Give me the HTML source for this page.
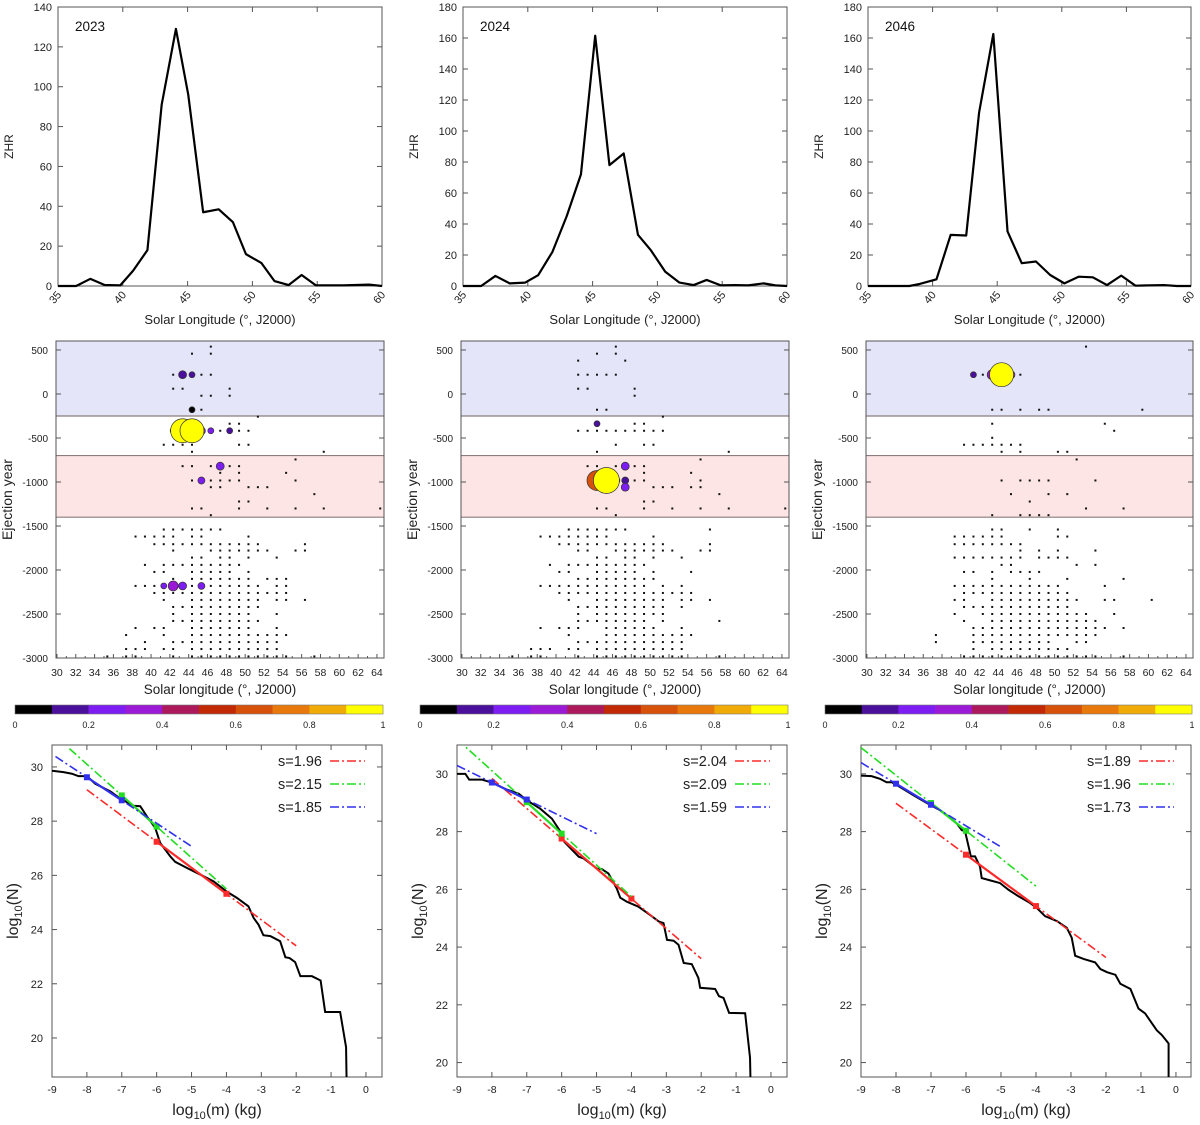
<!DOCTYPE html>
<html><head><meta charset="utf-8"><style>
html,body{margin:0;padding:0;background:#fff}
svg{display:block;font-family:"Liberation Sans","DejaVu Sans",sans-serif}
</style></head><body>
<svg id="fig" width="1200" height="1125" viewBox="0 0 1200 1125" xmlns="http://www.w3.org/2000/svg"></svg>
<script>
// ---------- ZHR data ----------
const zhrLon2023=[35,36.4,37.5,38.6,39.8,40.8,41.9,43,44.1,45.05,46.2,47.4,48.5,49.5,50.7,51.7,52.8,53.8,54.9,56,57,58,59,60];
const zhrVal2023=[0,0,3.6,0.5,0.3,7.7,18,91,129,96,37,38.5,32,16,11.5,2.5,0.5,5.5,0.3,0.3,0.3,0.5,0.7,0];
const zhrLon2024=[35,36.4,37.5,38.6,39.8,40.8,41.9,43,44.1,45.2,46.3,47.4,48.5,49.5,50.6,51.7,52.8,53.8,54.9,56,57,58.2,59.1,60];
const zhrVal2024=[0,0,6.5,1.7,2.2,7,22,45,72,161.5,78,85.5,33,23,9.3,2.2,0.6,3.9,0.4,0.6,0.4,1.7,0.4,0];
const zhrLon2046=[35,38.2,39,40.3,41.4,42.6,43.6,44.7,45.8,46.9,48,49.1,50.2,51.3,52.4,53.5,54.6,55.7,57.9,58.9,60];
const zhrVal2046=[0,0,1.3,4.3,33,32.6,112,162.6,35.2,14.7,15.8,7.1,1.7,6,5.6,0.6,6.7,0.2,0.6,0,0];
const zhrTicks2023=[0,20,40,60,80,100,120,140];
const zhrTicks2024=[0,20,40,60,80,100,120,140,160,180];
const lonTicksTop=[35,40,45,50,55,60];

// ---------- Ejection scatter data (rows: ejection year, longitude bins) ----------
const ejYears=[538,458,379,219,60,-20,-179,-258,-338,-418,-498,-577,-657,-744,-820,-896,-983,-1059,-1138,-1222,-1301,-1377,-1540,-1620,-1707,-1779,-1859,-1942,-2022,-2101,-2181,-2261,-2340,-2420,-2500,-2579,-2659,-2739,-2819,-2898,-2982];
const ejBins2023=[[46],[44,46],[],[42,43,44,45,46],[42,43,48],[45,46,48],[44,45],[51],[44,48,49],[42,43,44,45,46,47,48,49,50],[],[41,42,43,44,49,50],[44,58],[55],[43,44,46,47,48,49],[47,49,54],[44,45,46,47,48,49,55],[46,47,50,51,52],[57],[49,50],[44,45,49,52,55,58,64],[46],
[41,42,43,44,45,46,47],[38,39,40,41,42,44,45,50],[40,41,42,43,44,45,46,47,48,49,50,51,56],[42,46,47,48,49,50,51,52,55,56],[44,45,47,48,50,53],[39,41,42,43,44,45,46,47,48,49],[40,41,44,45,46,47,48,50],[42,44,45,46,47,48,49,50,52,53,54],[38,39,40,41,42,43,44,45,46,47,48,49,50,51,53,54],[40,41,42,43,44,45,46,47,48,49,50,51,52,53,54],[41,44,45,46,47,48,49,50,51,53,54,56],[42,43,44,45,46,47,48,49,50,51],[42,44,45,46,47,48,49,50,53],[42,43,44,45,46,47,48,49,50,51],[38,40,41,44,45,46,47,48,49,50,53],[37,41,44,45,46,47,48,49,50,51,52,53,54],[39,42,43,44,45,46,47,48,49,50,51,52,53],[37,38,39,41,42,44,45,46,47,48,49,50,51,52,53],[35,37,38,42,44,45,46,47,48,49,50,51,52,53,54,57]];
const ejBins2024=[[46],[44,46],[42,47],[42,43,44,45,46],[42,43,48],[48],[44,45],[51],[44,48,49],[42,43,44,45,46,47,48,49,50,51],[],[46,49,50],[44,58],[55],[43,44,46,47,48,49],[49,54],[46,47,48,49,55],[46,47,50,51,52,54,55],[57],[49,50],[44,45,49,52,55,58,64],[46],
[41,42,43,44,45,46,47,56],[38,39,40,41,42,43,44,45,50],[40,41,42,43,44,45,46,47,48,49,50,51,56],[42,43,46,47,48,49,50,51,52,55,56],[44,45,47,48,50,53],[39,41,42,43,44,45,46,47,48,49],[40,41,44,45,46,47,48,50,54],[42,43,44,45,46,47,48,49,50],[38,39,40,41,42,43,44,45,46,47,48,49,51,53],[40,41,42,43,44,45,46,47,48,49,50,51,52,53,54],[41,44,45,46,47,48,49,50,51,53,54,56],[42,43,44,45,46,47,48,49,50,51,53],[42,44,45,46,47,48,49,50,51],[42,43,44,45,46,47,48,49,51,57],[38,40,41,42,45,46,47,48,49,50,53],[41,45,46,47,48,49,50,51,52,53,54],[42,43,44,45,46,47,48,49,50,51,52,53],[37,38,39,41,42,44,45,46,47,48,49,50,51,52,53],[35,37,38,42,44,45,46,47,48,49,50,51,52,53,57]];
const ejBins2046=[[53],[],[],[41,42,43,45,46],[],[],[43,44,46,48,49,59],[],[43,55],[56],[43],[40,41,42,43,44,45,46],[44,46,50,51],[52],[],[],[44,46,47,48,49,54],[],[45,49,51],[47],[53,57],[43,46,47,48,49],
[43,44,47,50],[39,40,41,42,43,44,50,51],[39,40,41,42,43,44,45,46],[46,48,50,54],[39,40,41,42,43,44,45,46,48,49,50,51],[44,45,52,54],[40,41,43,45,46,47,48],[43,47,51,57],[39,40,41,42,43,44,45,46,47,48,49,50,55],[40,41,42,43,44,45,46,47,48,49,50,51],[39,40,43,44,45,46,47,48,49,50,51,52,55,56,60],[40,41,42,43,44,45,46,47,48,49,50,51],[39,42,43,44,45,46,47,48,49,50,51,52,53,56],[40,43,44,45,46,47,48,49,50,51,52,53,54],[41,42,43,44,45,46,47,48,49,50,51,52,53,54,55,57],[37,41,42,43,44,45,46,47,48,49,50,51,52,53,54],[37,41,42,43,44,45,46,47,48,49,52,53],[41,43,44,45,46,47,48,49,50,51],[40,41,42,43,44,45,46,47,48,49,50,51,52,53,54,57]];
// highlighted (weighted) points: bin, year, colour value 0..1, weight
const hiBin2023=[43,44,44,42,45,46,48,47,45,41,42,43,45,43,44];
const hiYear2023=[219,219,-179,-418,-418,-418,-418,-820,-983,-2181,-2181,-2181,-2181,-418,-418];
const hiVal2023=[0.15,0.15,0.05,0.2,0.25,0.2,0.15,0.25,0.25,0.25,0.3,0.25,0.25,1,1];
const hiW2023=[4,3,3,3,4,3,3,4,3.5,3,5,4,3.5,12,12];
const hiBin2024=[44,47,47,47,46,44,45];
const hiYear2024=[-338,-820,-983,-1059,-983,-983,-983];
const hiVal2024=[0.15,0.25,0.15,0.2,0.3,0.62,1];
const hiW2024=[3,4,3.5,4,4,10,13];
const hiBin2046=[41,43,45,44];
const hiYear2046=[219,219,219,219];
const hiVal2046=[0.1,0.3,0.3,1];
const hiW2046=[3,5,4,12];
const yearTicks=[500,0,-500,-1000,-1500,-2000,-2500,-3000];
const lonTicksMid=[30,32,34,36,38,40,42,44,46,48,50,52,54,56,58,60,62,64];
const cbColors=['#000000','#4a109c','#7d1df2','#9a1ad6','#ad1a5c','#c22a06','#d6520b','#e87a0d','#f0ab08','#ffff00'];
const cbTicks=[0,0.2,0.4,0.6,0.8,1];

// ---------- Mass distribution data ----------
const massM2023=[-9,-8.67,-8.43,-8.24,-8,-7.76,-7.33,-7.04,-6.66,-6.47,-6.28,-6.04,-5.9,-5.61,-5.47,-5.13,-4.75,-4.37,-3.99,-3.7,-3.37,-3.22,-3.08,-2.94,-2.74,-2.46,-2.31,-2.19,-2.03,-1.88,-1.55,-1.3,-1.17,-0.74,-0.57,-0.55];
const massN2023=[29.86,29.81,29.75,29.66,29.66,29.38,29.1,28.83,28.57,28.55,28.18,27.75,27.2,26.7,26.5,26.27,26.03,25.78,25.4,25.17,24.86,24.43,24.18,23.79,23.76,23.57,22.98,22.95,22.8,22.28,22.28,22.12,20.96,20.96,19.66,18];
const massM2024=[-9,-8.76,-8.65,-8.28,-7.98,-7.62,-7.23,-6.99,-6.61,-6.28,-6.04,-5.92,-5.51,-5.37,-4.99,-4.85,-4.66,-4.42,-4.32,-4.13,-3.8,-3.46,-3.22,-3.08,-2.98,-2.79,-2.65,-2.5,-2.27,-2.08,-2.03,-1.6,-1.49,-1.36,-1.2,-0.74,-0.6,-0.58];
const massN2024=[30,30,29.8,29.8,29.69,29.48,29.31,29.08,28.79,28.45,28.01,27.64,27.13,27.07,26.72,26.7,26.55,26.03,25.71,25.57,25.4,25.11,24.89,24.83,24.25,24.22,24.08,23.45,23.41,22.93,22.59,22.55,22.3,22.24,21.72,21.71,20.17,19];
const massM2046=[-9,-8.7,-8.46,-8.27,-8.12,-7.88,-7.5,-7.12,-6.74,-6.55,-6.26,-6.12,-6.03,-5.86,-5.74,-5.6,-5.55,-5.31,-5.03,-4.79,-4.5,-4.17,-3.98,-3.74,-3.4,-3.12,-2.98,-2.88,-2.64,-2.31,-2.16,-1.97,-1.73,-1.59,-1.3,-1.07,-0.88,-0.55,-0.4,-0.21,-0.21];
const massN2046=[29.94,29.92,29.83,29.71,29.71,29.54,29.26,28.99,28.74,28.57,28.28,28.05,28.03,27.14,27.14,26.79,26.39,26.31,26.22,25.99,25.76,25.53,25.36,25.07,24.9,24.67,24.33,23.7,23.59,23.47,23.24,23.13,23.04,22.73,22.55,21.87,21.7,21.12,20.95,20.66,19];
// fits: red, green, blue -- slope index s, log N at m=-6, line extent, fitted-segment endpoints
const fitS2023=[1.96,2.15,1.85];
const fitN6_2023=[27.24,27.8,27.92];
const fitS2024=[2.04,2.09,1.59];
const fitN6_2024=[27.76,27.93,28.52];
const fitS2046=[1.89,1.96,1.73];
const fitN6_2046=[27.2,28.03,28.2];
const fitFrom2023=[-8,-8.5,-8.9], fitTo2023=[-2,-4,-5];
const fitFrom2024=[-8,-9,-9], fitTo2024=[-2,-4,-5];
const fitFrom2046=[-8,-9,-9], fitTo2046=[-2,-4,-5];
const fitSegA=[-6,-7,-8], fitSegB=[-4,-6,-7];
const massXTicks=[-9,-8,-7,-6,-5,-4,-3,-2,-1,0];
const massYTicks=[20,22,24,26,28,30];

// ---------- drawing ----------
const NS='http://www.w3.org/2000/svg';
const svg=document.getElementById('fig');
function mk(tag,attrs,parent){const e=document.createElementNS(NS,tag);for(const k in attrs)e.setAttribute(k,attrs[k]);(parent||svg).appendChild(e);return e;}
function txt(x,y,s,size,anchor,parent,extra){const t=mk('text',Object.assign({x:x,y:y,'font-size':size,'text-anchor':anchor||'middle',fill:'#222'},extra||{}),parent);t.textContent=s;return t;}
const lineCol='#555';

function drawZhr(b,lon,val,ticks,label,key){
  const g=mk('g',{});
  
  
  const ymax=ticks[ticks.length-1];
  const sx=v=>b.x0+(v-35)/25*(b.x1-b.x0), sy=v=>b.y1-v/ymax*(b.y1-b.y0);
  const fr=mk('rect',{x:b.x0,y:b.y0,width:b.x1-b.x0,height:b.y1-b.y0,fill:'none',stroke:lineCol,'stroke-width':1},g);
  
  
  ticks.forEach(v=>{const y=sy(v);
    mk('line',{x1:b.x0,x2:b.x0+5,y1:y,y2:y,stroke:lineCol},g);mk('line',{x1:b.x1,x2:b.x1-5,y1:y,y2:y,stroke:lineCol},g);
    const t=txt(b.x0-6,y+4,String(v),11,'end',g);
    
    });
  lonTicksTop.forEach(v=>{const x=sx(v);
    mk('line',{x1:x,x2:x,y1:b.y1,y2:b.y1-5,stroke:lineCol},g);mk('line',{x1:x,x2:x,y1:b.y0,y2:b.y0+5,stroke:lineCol},g);
    const t=txt(x+4,b.y1+9,String(v),11,'end',g,{transform:`rotate(-50 ${x+4} ${b.y1+9})`});
    
    });
  const p=mk('polyline',{points:lon.map((v,i)=>sx(v)+','+sy(val[i])).join(' '),fill:'none',stroke:'#000','stroke-width':2.2,'stroke-linejoin':'round'},g);
  
  
  const yt=txt(b.x0+17,b.y0+24,label,13.5,'start',g,{fill:'#111'});
  
  
  const at=txt(b.x0-45,(b.y0+b.y1)/2,'ZHR',12,'middle',g,{transform:`rotate(-90 ${b.x0-45} ${(b.y0+b.y1)/2})`});
  
  
  const xt=txt((b.x0+b.x1)/2,b.y1+38,'Solar Longitude (°, J2000)',13,'middle',g);
  
  
}

function colorOf(v){return cbColors[Math.min(9,Math.floor(v*10))];}

function drawScatter(b,bins,hB,hY,hV,hW,key){
  const g=mk('g',{});
  
  
  const X0=29.9,X1=64.75,Y0=-3000,Y1=602;
  const sx=v=>b.x0+(v-X0)/(X1-X0)*(b.x1-b.x0), sy=v=>b.y1-(v-Y0)/(Y1-Y0)*(b.y1-b.y0);
  const w=b.x1-b.x0;
  const blue=mk('rect',{x:b.x0,y:b.y0,width:w,height:sy(-250)-b.y0,fill:'#e5e5fa'},g);
  
  
  const pink=mk('rect',{x:b.x0,y:sy(-700),width:w,height:sy(-1400)-sy(-700),fill:'#fde5e6'},g);
  
  
  [-250,-700,-1400].forEach(v=>mk('line',{x1:b.x0,x2:b.x1,y1:sy(v),y2:sy(v),stroke:'#8c7c7c','stroke-width':1.2},g));
  const fr=mk('rect',{x:b.x0,y:b.y0,width:w,height:b.y1-b.y0,fill:'none',stroke:lineCol},g);
  
  
  yearTicks.forEach(v=>{const y=sy(v);
    mk('line',{x1:b.x0,x2:b.x0+5,y1:y,y2:y,stroke:lineCol},g);mk('line',{x1:b.x1,x2:b.x1-5,y1:y,y2:y,stroke:lineCol},g);
    const t=txt(b.x0-8,y+4,String(v),10,'end',g);
    
    });
  for(let v=30;v<=64;v++){const x=sx(v);mk('line',{x1:x,x2:x,y1:b.y1,y2:b.y1-(v%2?2:4),stroke:lineCol},g);}
  lonTicksMid.forEach(v=>{const t=txt(sx(v),b.y1+18,String(v),10.5,'middle',g);
    
    });
  ejYears.forEach((yr,i)=>{(bins[i]||[]).forEach(bn=>{
    const d=mk('rect',{x:sx(bn+0.35)-1,y:sy(yr)-1,width:2,height:2,fill:'#111'},g);
    
    });});
  hB.forEach((bn,i)=>{
    const c=mk('circle',{cx:sx(bn+0.35),cy:sy(hY[i]),r:hW[i],fill:colorOf(hV[i]),stroke:'#333','stroke-width':0.7},g);
    
    });
  const at=txt(b.x0-44,(b.y0+b.y1)/2,'Ejection year',14,'middle',g,{transform:`rotate(-90 ${b.x0-44} ${(b.y0+b.y1)/2})`});
  
  
  const xt=txt((b.x0+b.x1)/2,b.y1+36,'Solar longitude (°, J2000)',13.5,'middle',g);
  
  
}

function drawColorbar(x0,x1,key){
  const g=mk('g',{});
  
  
  const w=(x1-x0)/cbColors.length;
  cbColors.forEach((c,i)=>{const r=mk('rect',{x:x0+i*w,y:705,width:w+0.3,height:9,fill:c},g);
    
    });
  mk('rect',{x:x0,y:705,width:x1-x0,height:9,fill:'none',stroke:'#777','stroke-width':0.6},g);
  cbTicks.forEach(v=>{const t=txt(x0+v*(x1-x0),728,String(v),9,'middle',g);
    
    });
}

const fitColors=['#ff2a2a','#22dd22','#3030ee'];
function drawMass(b,yd,xmax,M,N,S,N6,F,T,key){
  const g=mk('g',{});
  
  
  const sx=v=>b.x0+(v+9)/(xmax+9)*(b.x1-b.x0), sy=v=>b.y1-(v-yd[0])/(yd[1]-yd[0])*(b.y1-b.y0);
  const cid='clip'+key;
  const cp=mk('clipPath',{id:cid},g);mk('rect',{x:b.x0,y:b.y0,width:b.x1-b.x0,height:b.y1-b.y0},cp);
  const fr=mk('rect',{x:b.x0,y:b.y0,width:b.x1-b.x0,height:b.y1-b.y0,fill:'none',stroke:lineCol},g);
  
  
  massYTicks.forEach(v=>{const y=sy(v);
    mk('line',{x1:b.x0,x2:b.x0+5,y1:y,y2:y,stroke:lineCol},g);mk('line',{x1:b.x1,x2:b.x1-5,y1:y,y2:y,stroke:lineCol},g);
    const t=txt(b.x0-9,y+4,String(v),11,'end',g);
    
    });
  massXTicks.forEach(v=>{const x=sx(v);
    mk('line',{x1:x,x2:x,y1:b.y1,y2:b.y1-5,stroke:lineCol},g);mk('line',{x1:x,x2:x,y1:b.y0,y2:b.y0+5,stroke:lineCol},g);
    const t=txt(x,b.y1+16,String(v),10.5,'middle',g);
    
    });
  const inner=mk('g',{'clip-path':`url(#${cid})`},g);
  const c=mk('polyline',{points:M.map((v,i)=>sx(v)+','+sy(N[i])).join(' '),fill:'none',stroke:'#000','stroke-width':2},inner);
  
  
  const fy=(i,m)=>N6[i]+(1-S[i])*(m+6);
  [0,1,2].forEach(i=>{
    const l=mk('line',{x1:sx(F[i]),y1:sy(fy(i,F[i])),x2:sx(T[i]),y2:sy(fy(i,T[i])),stroke:fitColors[i],'stroke-width':1.6,'stroke-dasharray':'9,3,2,3'},inner);
    
    
    const s=mk('line',{x1:sx(fitSegA[i]),y1:sy(fy(i,fitSegA[i])),x2:sx(fitSegB[i]),y2:sy(fy(i,fitSegB[i])),stroke:fitColors[i],'stroke-width':2.2},inner);
    
    
    [fitSegA[i],fitSegB[i]].forEach(m=>{const d=mk('rect',{x:sx(m)-3,y:sy(fy(i,m))-3,width:6,height:6,fill:fitColors[i]},inner);
      
      });
    const ly=b.y0+21+i*23;
    const lt=txt(b.x1-60,ly,'s='+S[i].toFixed(2),14.5,'end',g);
    
    
    const ll=mk('line',{x1:b.x1-52,x2:b.x1-17,y1:ly-5,y2:ly-5,stroke:fitColors[i],'stroke-width':1.6,'stroke-dasharray':'9,3,2,3'},g);
    
    
  });
  const cy=(b.y0+b.y1)/2, cx=b.x0-34;
  const at=mk('text',{x:cx,y:cy,'font-size':16,'text-anchor':'middle',fill:'#222',transform:`rotate(-90 ${cx} ${cy})`},g);
  at.innerHTML='log<tspan font-size="11" dy="4">10</tspan><tspan dy="-4">(N)</tspan>';
  
  
  const xt=mk('text',{x:(b.x0+b.x1)/2,y:b.y1+38,'font-size':16,'text-anchor':'middle',fill:'#222'},g);
  xt.innerHTML='log<tspan font-size="11" dy="4">10</tspan><tspan dy="-4">(m) (kg)</tspan>';
  
  
}

drawZhr({x0:58,x1:382,y0:7,y1:286},zhrLon2023,zhrVal2023,zhrTicks2023,'2023','2023');
drawZhr({x0:463,x1:787,y0:7,y1:286},zhrLon2024,zhrVal2024,zhrTicks2024,'2024','2024');
drawZhr({x0:868,x1:1191,y0:7,y1:286},zhrLon2046,zhrVal2046,zhrTicks2024,'2046','2046');

drawScatter({x0:56,x1:384,y0:341,y1:658},ejBins2023,hiBin2023,hiYear2023,hiVal2023,hiW2023,'2023');
drawScatter({x0:461,x1:789,y0:341,y1:658},ejBins2024,hiBin2024,hiYear2024,hiVal2024,hiW2024,'2024');
drawScatter({x0:866,x1:1193,y0:341,y1:658},ejBins2046,hiBin2046,hiYear2046,hiVal2046,hiW2046,'2046');

drawColorbar(15,383,'2023');
drawColorbar(420,788,'2024');
drawColorbar(825,1192,'2046');

drawMass({x0:52,x1:382,y0:745,y1:1077},[18.56,30.81],0.46,massM2023,massN2023,fitS2023,fitN6_2023,fitFrom2023,fitTo2023,'2023');
drawMass({x0:457,x1:787,y0:745,y1:1077},[19.5,31],0.46,massM2024,massN2024,fitS2024,fitN6_2024,fitFrom2024,fitTo2024,'2024');
drawMass({x0:861,x1:1191,y0:745,y1:1077},[19.5,31],0.43,massM2046,massN2046,fitS2046,fitN6_2046,fitFrom2046,fitTo2046,'2046');
</script>
</body></html>
